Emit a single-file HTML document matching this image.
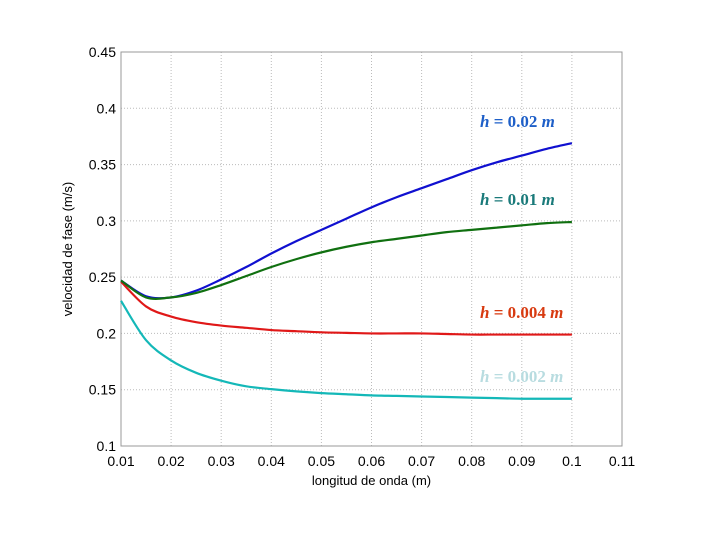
<!DOCTYPE html>
<html><head><meta charset="utf-8"><style>
body{margin:0;background:#fff}
svg text{font-family:"Liberation Sans",Arial,sans-serif}
.lbl{font-family:"Liberation Serif",serif;font-weight:bold;font-size:17px}
</style></head><body>
<svg id="chart" width="720" height="540" viewBox="0 0 720 540" xmlns="http://www.w3.org/2000/svg">
<rect width="720" height="540" fill="#fff"/>
<g id="grid"></g><g id="axes"></g><g id="series"></g><g id="labels"></g>
</svg>
<script>
const xTicks=[0.01,0.02,0.03,0.04,0.05,0.06,0.07,0.08,0.09,0.1,0.11];
const yTicks=[0.1,0.15,0.2,0.25,0.3,0.35,0.4,0.45];
const xLam=[0.01,0.015,0.02,0.025,0.03,0.035,0.04,0.045,0.05,0.055,0.06,0.065,0.07,0.075,0.08,0.085,0.09,0.095,0.1];
const vH002=[0.247,0.233,0.232,0.238,0.248,0.259,0.271,0.282,0.292,0.302,0.312,0.321,0.329,0.337,0.345,0.352,0.358,0.364,0.369];
const vH001=[0.247,0.232,0.232,0.236,0.243,0.251,0.259,0.266,0.272,0.277,0.281,0.284,0.287,0.290,0.292,0.294,0.296,0.298,0.299];
const vH0004=[0.246,0.224,0.215,0.210,0.207,0.205,0.203,0.202,0.201,0.2005,0.200,0.200,0.200,0.1995,0.199,0.199,0.199,0.199,0.199];
const vH0002=[0.229,0.194,0.176,0.165,0.158,0.153,0.1505,0.1485,0.147,0.146,0.145,0.1445,0.144,0.1435,0.143,0.1425,0.142,0.142,0.142];
const NS="http://www.w3.org/2000/svg";
const L=121,R=622,T=52,B=446;
const sx=v=>L+(v-0.01)/0.1*(R-L);
const sy=v=>B-(v-0.1)/0.35*(B-T);
function mk(tag,at,parent){const e=document.createElementNS(NS,tag);for(const k in at)e.setAttribute(k,at[k]);parent.appendChild(e);return e;}
const grid=document.getElementById('grid'),axes=document.getElementById('axes'),ser=document.getElementById('series'),lab=document.getElementById('labels');
xTicks.forEach(t=>{const x=sx(t);
 const g=mk('line',{x1:x,x2:x,y1:T,y2:B,stroke:'#bbb','stroke-dasharray':'1,2','stroke-width':1},grid);
 
 const tx=mk('text',{x:x,y:B+20,'text-anchor':'middle','font-size':14},axes);tx.textContent=String(t);
 });
yTicks.forEach(t=>{const y=sy(t);
 const g=mk('line',{x1:L,x2:R,y1:y,y2:y,stroke:'#bbb','stroke-dasharray':'1,2','stroke-width':1},grid);
 
 const tx=mk('text',{x:L-5,y:y+5,'text-anchor':'end','font-size':14},axes);tx.textContent=String(t);
 });
const box=mk('rect',{x:L,y:T,width:R-L,height:B-T,fill:'none',stroke:'#999','stroke-width':1},axes);

const xt=mk('text',{x:(L+R)/2,y:485,'text-anchor':'middle','font-size':13},axes);xt.textContent='longitud de onda (m)';

const yt=mk('text',{x:0,y:0,'text-anchor':'middle','font-size':13,transform:'translate(72,'+((T+B)/2)+') rotate(-90)'},axes);yt.textContent='velocidad de fase (m/s)';

function path(vals){const p=xLam.map((x,i)=>[sx(x),sy(vals[i])]);let d='M'+p[0][0]+','+p[0][1];
 for(let i=0;i<p.length-1;i++){const p0=p[Math.max(0,i-1)],p1=p[i],p2=p[i+1],p3=p[Math.min(p.length-1,i+2)];
  const c1=[p1[0]+(p2[0]-p0[0])/6,p1[1]+(p2[1]-p0[1])/6],c2=[p2[0]-(p3[0]-p1[0])/6,p2[1]-(p3[1]-p1[1])/6];
  d+=' C'+c1+' '+c2+' '+p2;}return d;}
const series=[[vH0002,'#14b8b8','line-h-0002'],[vH0004,'#e01818','line-h-0004'],[vH002,'#1010d0','line-h-002'],[vH001,'#107010','line-h-001']];
series.forEach(s=>{const e=mk('path',{d:path(s[0]),fill:'none',stroke:s[1],'stroke-width':2.2},ser);
 });
const labs=[['0.02','#1e5fc8',127,'label-h-002'],['0.01','#1a7a7a',205,'label-h-001'],['0.004','#d83a10',318,'label-h-0004'],['0.002','#b8dce0',382,'label-h-0002']];
labs.forEach(l=>{const t=mk('text',{x:480,y:l[2],fill:l[1],class:'lbl'},lab);
 t.innerHTML='<tspan font-style="italic">h</tspan> = '+l[0]+' <tspan font-style="italic">m</tspan>';
 });
</script>
</body></html>
